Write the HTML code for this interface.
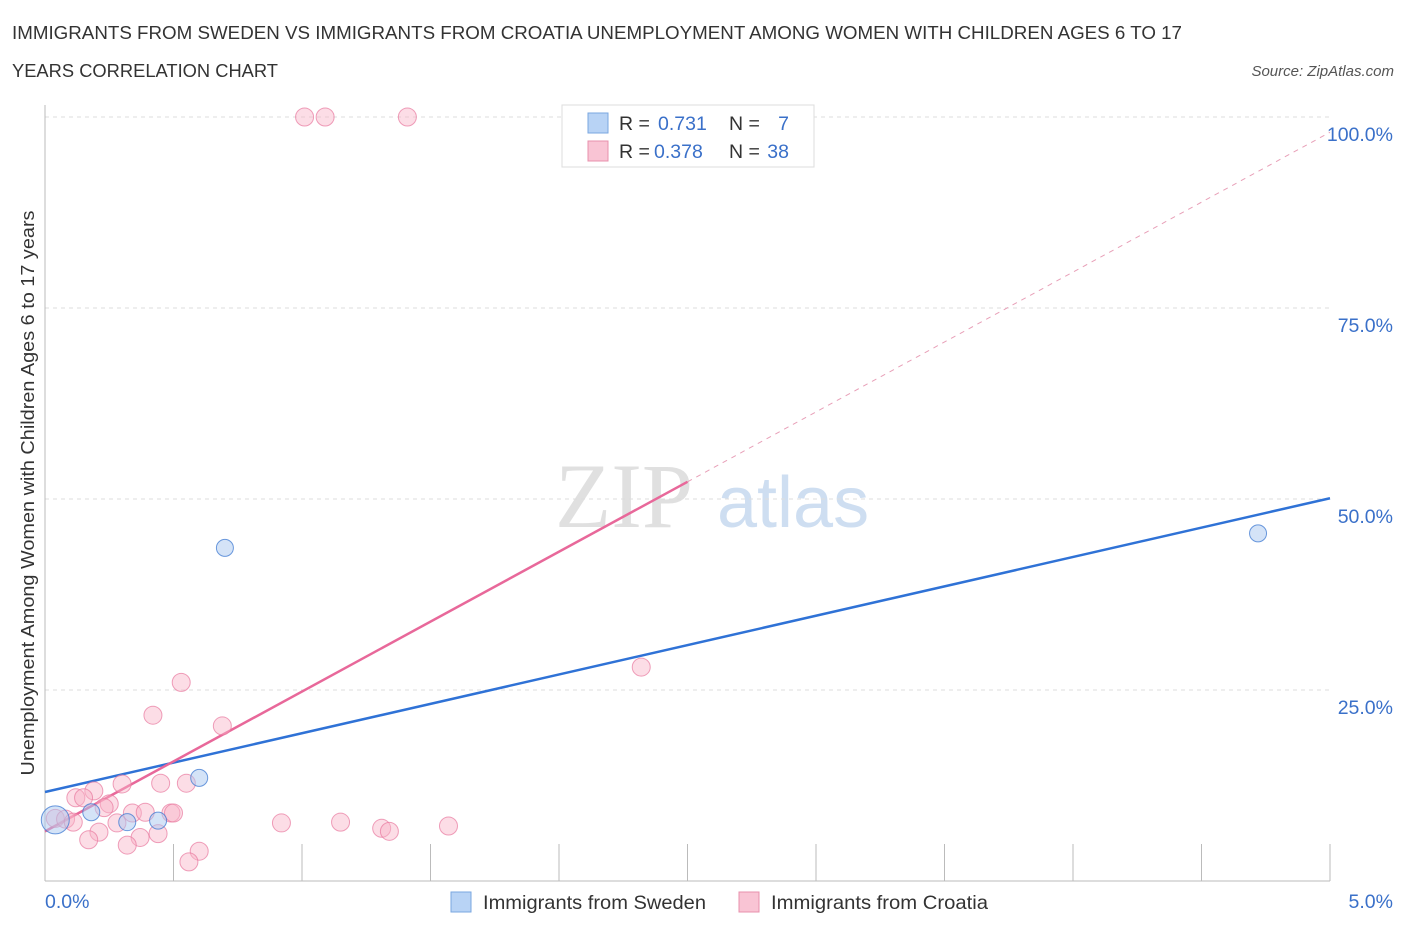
<!DOCTYPE html>
<html><head><meta charset="utf-8"><style>
body{margin:0;background:#fff;font-family:"Liberation Sans",sans-serif;}
</style></head><body>
<svg id="chart" width="1406" height="930" xmlns="http://www.w3.org/2000/svg" style="display:block">
<text x="12" y="39" font-size="18" fill="#333" textLength="1170" lengthAdjust="spacingAndGlyphs">IMMIGRANTS FROM SWEDEN VS IMMIGRANTS FROM CROATIA UNEMPLOYMENT AMONG WOMEN WITH CHILDREN AGES 6 TO 17</text>
<text x="12" y="77" font-size="18" fill="#333" textLength="266" lengthAdjust="spacingAndGlyphs">YEARS CORRELATION CHART</text>
<text x="1394" y="76" font-size="15" fill="#555" font-style="italic" text-anchor="end">Source: ZipAtlas.com</text>
<text x="555" y="527" font-size="92" fill="#ddd" font-family="Liberation Serif" opacity="0.9">ZIP</text>
<text x="717" y="527" font-size="72" fill="#c9dbf0" opacity="0.9">atlas</text>
<g id="grid"></g>
<g id="axes"></g>
<g id="trends"></g>
<g id="points"></g>
<text transform="translate(34,493) rotate(-90)" font-size="18" fill="#333" text-anchor="middle" textLength="565" lengthAdjust="spacingAndGlyphs">Unemployment Among Women with Children Ages 6 to 17 years</text>
<g>
<rect x="562" y="105" width="252" height="62" fill="#fff" stroke="#ddd"/>
<rect x="588" y="113" width="20" height="20" fill="#b8d3f5" stroke="#7aa7e0"/>
<rect x="588" y="141" width="20" height="20" fill="#f9c4d4" stroke="#e890ac"/>
<text x="619" y="130" font-size="19.5" fill="#333">R =</text>
<text x="658" y="130" font-size="19.5" fill="#3a70c9">0.731</text>
<text x="729" y="130" font-size="19.5" fill="#333">N =</text>
<text x="789" y="130" font-size="19.5" fill="#3a70c9" text-anchor="end">7</text>
<text x="619" y="158" font-size="19.5" fill="#333">R =</text>
<text x="654" y="158" font-size="19.5" fill="#3a70c9">0.378</text>
<text x="729" y="158" font-size="19.5" fill="#333">N =</text>
<text x="789" y="158" font-size="19.5" fill="#3a70c9" text-anchor="end">38</text>
</g>
<g>
<rect x="451" y="892" width="20" height="20" fill="#b8d3f5" stroke="#7aa7e0"/>
<text x="483" y="909" font-size="19.5" fill="#333" textLength="223" lengthAdjust="spacingAndGlyphs">Immigrants from Sweden</text>
<rect x="739" y="892" width="20" height="20" fill="#f9c4d4" stroke="#e890ac"/>
<text x="771" y="909" font-size="19.5" fill="#333" textLength="217" lengthAdjust="spacingAndGlyphs">Immigrants from Croatia</text>
</g>
</svg>
<script>
const yTicks=[25,50,75,100];
const yTickLabels=["25.0%","50.0%","75.0%","100.0%"];
const xTickLabels=["0.0%","5.0%"];
const swedenX=[0.04,0.18,0.32,0.44,0.60,0.70,4.72];
const swedenY=[8.0,9.0,7.7,7.9,13.5,43.6,45.5];
const croatiaX=[1.01,1.09,1.41,0.53,0.42,0.69,2.32,0.30,0.45,0.55,0.19,0.12,0.15,0.25,0.23,0.34,0.39,0.49,0.50,0.04,0.08,0.11,0.28,0.21,0.37,0.44,0.17,0.32,0.60,0.56,0.92,1.15,1.31,1.34,1.57];
const croatiaY=[100,100,100,26.0,21.7,20.3,28.0,12.7,12.8,12.8,11.8,10.9,10.9,10.1,9.6,8.9,9.0,8.9,8.9,8.2,8.1,7.7,7.6,6.4,5.7,6.2,5.4,4.7,3.9,2.5,7.6,7.7,6.9,6.5,7.2];
const swedenTrend=[11.65,50.1];
const croatiaTrend=[6.5,98.0];
const croatiaSolidEnd=2.5;
const X0=45,X1=1330,Y0=881,Y100=117;
const sx=v=>X0+(v/5)*(X1-X0);
const sy=v=>Y0-(v/100)*(Y0-Y100);
const NS="http://www.w3.org/2000/svg";
function mk(tag,attrs,parent){const e=document.createElementNS(NS,tag);for(const k in attrs)e.setAttribute(k,attrs[k]);parent.appendChild(e);return e;}
const grid=document.getElementById('grid'),axes=document.getElementById('axes'),trends=document.getElementById('trends'),pts=document.getElementById('points');
yTicks.forEach((t,i)=>{
 const l=mk('line',{x1:X0,x2:X1,y1:sy(t),y2:sy(t),stroke:'#ddd','stroke-dasharray':'4,4'},grid);
 
 
 const tx=mk('text',{x:1393,y:sy(t)+24,'font-size':19.5,fill:'#3a70c9','text-anchor':'end'},axes);
 tx.textContent=yTickLabels[i];
 
 
});
let a=mk('line',{x1:X0,x2:X0,y1:105,y2:Y0,stroke:'#bbb'},axes);


a=mk('line',{x1:X0,x2:X1,y1:Y0,y2:Y0,stroke:'#bbb'},axes);


for(let i=1;i<=10;i++){
 const x=sx(i*0.5);
 const t=mk('line',{x1:x,x2:x,y1:844,y2:Y0,stroke:'#bbb'},axes);
 
 
}
let xl=mk('text',{x:45,y:908,'font-size':19.5,fill:'#3a70c9'},axes);xl.textContent=xTickLabels[0];


xl=mk('text',{x:1393,y:908,'font-size':19.5,fill:'#3a70c9','text-anchor':'end'},axes);xl.textContent=xTickLabels[1];


const lin=(tr,x)=>tr[0]+(tr[1]-tr[0])*x/5;
let tl=mk('line',{x1:sx(0),y1:sy(lin(swedenTrend,0)),x2:sx(5),y2:sy(lin(swedenTrend,5)),stroke:'#2f72d6','stroke-width':2.5},trends);


tl=mk('line',{x1:sx(croatiaSolidEnd),y1:sy(lin(croatiaTrend,croatiaSolidEnd)),x2:sx(5),y2:sy(lin(croatiaTrend,5)),stroke:'#e8a0b8','stroke-width':1,'stroke-dasharray':'5,5'},trends);


tl=mk('line',{x1:sx(0),y1:sy(lin(croatiaTrend,0)),x2:sx(croatiaSolidEnd),y2:sy(lin(croatiaTrend,croatiaSolidEnd)),stroke:'#e8689a','stroke-width':2.5},trends);


croatiaX.forEach((x,i)=>{
 const c=mk('circle',{cx:sx(x),cy:sy(croatiaY[i]),r:9,fill:'rgba(248,180,200,0.45)',stroke:'rgba(232,120,158,0.7)','stroke-width':1},pts);
 
 
});
swedenX.forEach((x,i)=>{
 const c=mk('circle',{cx:sx(x),cy:sy(swedenY[i]),r:i===0?14:8.5,fill:'rgba(170,200,240,0.5)',stroke:'rgba(60,120,210,0.75)','stroke-width':1},pts);
 
 
});
</script>
</body></html>
